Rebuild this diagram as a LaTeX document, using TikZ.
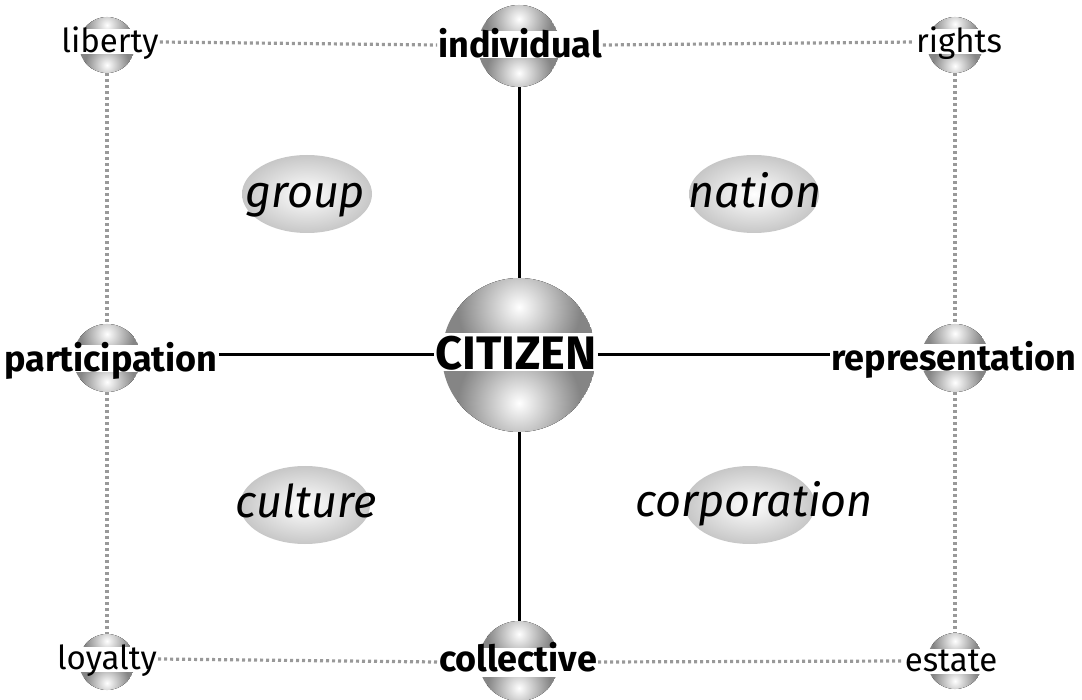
\documentclass[tikz,border=0pt]{standalone}
\usepackage{fontspec}
\setmainfont{Fira Sans}
\usetikzlibrary{calc,shapes.geometric}
\definecolor{orbdark}{gray}{0.52}
\definecolor{dotgray}{gray}{0.6}
\definecolor{podgray}{gray}{0.78}

% shaded caps above and below the label band of an orb: node, radius, half band
\newcommand\orbshade[3]{%
  \begin{scope}
    \clip (#1.center) circle (#2);
    \fill[orbdark] (#1.center) circle (#2);
    \fill[inner color=white, outer color=orbdark]
      ($(#1.center)+(-0.8*#2,{-(#2+#3)/2-0.8*#2})$) rectangle
      ($(#1.center)+(0.8*#2,{-(#2+#3)/2+0.8*#2})$);
    \fill[inner color=white, outer color=orbdark]
      ($(#1.center)+(-0.8*#2,{(#2+#3)/2-0.8*#2})$) rectangle
      ($(#1.center)+(0.8*#2,{(#2+#3)/2+0.8*#2})$);
  \end{scope}}

\begin{document}
\begin{tikzpicture}[
    x=1pt, y=-1pt,
    orb/.style={circle, inner sep=0pt, minimum size=2*#1},
    tag/.style={fill=white, inner xsep=1pt, inner ysep=0pt},
    major/.style={tag, text height=26pt, text depth=1pt, font=\bfseries\fontsize{36}{40}\selectfont},
    minor/.style={tag, text height=23pt, text depth=2pt, font=\fontsize{33}{36}\selectfont},
    hub/.style={tag, text height=37pt, text depth=1pt, font=\bfseries\fontsize{47}{50}\selectfont},
    pod/.style={ellipse, minimum width=130, minimum height=78, inner sep=0pt, inner color=white, outer color=podgray},
    podtext/.style={text height=30pt, text depth=10pt, inner sep=0pt, font=\itshape\fontsize{45}{50}\selectfont},
    link/.style={line width=3pt},
    trail/.style={dotgray, line width=3.2pt, dash pattern=on 3pt off 3pt}
  ]
  \useasboundingbox (0,0) rectangle (1082,700);

  % quadrant pods
  \node[pod] (grpP) at (307,194) {};
  \node[pod] (natP) at (754,194) {};
  \node[pod] (culP) at (305,505) {};
  \node[pod] (corP) at (750,505) {};
  \node[podtext] (grpT) at (305,198) {group};
  \node[podtext] (natT) at (755,198) {nation};
  \node[podtext] (culT) at (306,507) {culture};
  \node[podtext] (corT) at (754,506) {corporation};

  % orbs
  \node[orb=28] (libO) at (107,45) {};
  \node[orb=41] (indO) at (519,46) {};
  \node[orb=28] (rigO) at (955,45) {};
  \node[orb=34] (parO) at (107,358) {};
  \node[orb=77] (citO) at (519,355) {};
  \node[orb=34] (repO) at (955,358) {};
  \node[orb=28] (loyO) at (107,662) {};
  \node[orb=40] (colO) at (519,661) {};
  \node[orb=28] (estO) at (955,661) {};
  \orbshade{libO}{28}{12}
  \orbshade{indO}{41}{13}
  \orbshade{rigO}{28}{14}
  \orbshade{parO}{34}{14}
  \orbshade{citO}{77}{19}
  \orbshade{repO}{34}{15}
  \orbshade{loyO}{28}{14}
  \orbshade{colO}{40}{14}
  \orbshade{estO}{28}{12}

  % labels
  \node[minor] (libT) at (110,42) {liberty};
  \node[major] (indT) at (520,45) {individual};
  \node[minor] (rigT) at (959,42) {rights};
  \node[major] (parT) at (111,359) {participation};
  \node[hub]   (citT) at (516,352) {CITIZEN};
  \node[major] (repT) at (954,358) {representation};
  \node[minor] (loyT) at (107,659) {loyalty};
  \node[major, text height=24pt, text depth=5pt] (colT) at (518,662) {collective};
  \node[minor] (estT) at (951,661) {estate};

  % dotted frame
  \draw[trail] (libT.east) -- (indT.west);
  \draw[trail] (indT.east) -- (rigT.west);
  \draw[trail] (loyT.east) -- (colT.west);
  \draw[trail] (colT.east) -- (estT.west);
  \draw[trail] (libO.south) -- (parO.north);
  \draw[trail] (parO.south) -- (loyO.north);
  \draw[trail] (rigO.south) -- (repO.north);
  \draw[trail] (repO.south) -- (estO.north);

  % axes
  \draw[link] (indO.south) -- (citO.north);
  \draw[link] (citO.south) -- (colO.north);
  \draw[link] (parT.east |- citO.center) -- (citT.west |- citO.center);
  \draw[link] (citT.east |- citO.center) -- (repT.west |- citO.center);
\end{tikzpicture}
\end{document}
